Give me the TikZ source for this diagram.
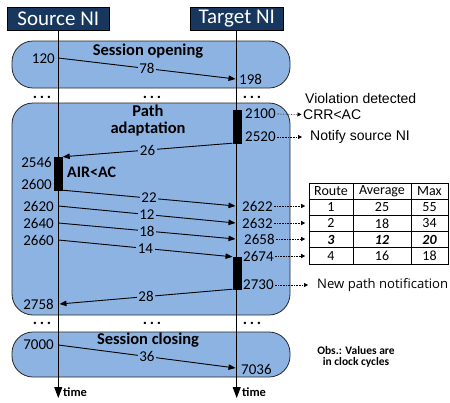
\documentclass[tikz,border=0pt]{standalone}
\usepackage{fontspec}
\setmainfont{Carlito}
\newfontfamily\arialf{Liberation Sans}
\newfontfamily\segf{Open Sans}
\usetikzlibrary{arrows.meta}
\definecolor{boxblue}{HTML}{8DB3E2}
\definecolor{hdrblue}{HTML}{17375E}
\begin{document}
\begin{tikzpicture}[x=1pt,y=-1pt,
  hdr/.style={draw=black, fill=hdrblue, text=white, font=\fontsize{21}{22}\selectfont, inner sep=0pt, minimum height=23pt},
  phase/.style={draw=black!85, fill=boxblue, rounded corners=21pt, line width=0.8pt},
  ptitle/.style={font=\fontsize{16.5}{17}\selectfont\bfseries, align=center, inner sep=0pt},
  life/.style={line width=0.9pt, -{Triangle[length=11pt,width=8pt]}},
  msg/.style={line width=0.9pt, -{Triangle[length=7pt,width=5.5pt]}},
  lbl/.style={fill=boxblue, inner sep=1.5pt, font=\fontsize{15}{15}\selectfont},
  num/.style={font=\fontsize{15}{15}\selectfont, inner sep=1pt},
  dotarr/.style={densely dotted, line width=0.6pt, -{Triangle[length=4pt,width=4pt]}},
  bar/.style={fill=black, draw=black, inner sep=0pt, minimum width=8pt},
  note/.style={font=\arialf\fontsize{14}{15}\selectfont, inner sep=0pt},
  dots/.style={font=\fontsize{16}{16}\selectfont\bfseries, inner sep=0pt, text height=2.5pt, text depth=0pt},
  cell/.style={draw=black, line width=0.6pt, inner sep=0pt, minimum height=16.2pt, font=\fontsize{14}{14}\selectfont},
  timel/.style={font=\fontsize{12.5}{13}\selectfont\bfseries, inner sep=0pt, anchor=west}
]
\useasboundingbox (0,0) rectangle (450,402);

% phase boxes
\draw[phase] (12,41) rectangle (290,88);
\draw[phase] (12,103) rectangle (290,315);
\draw[phase] (12,332) rectangle (290,377);

\node[ptitle] (t1) at (148,51) {Session opening};
\node[ptitle] (t2) at (148,121) {Path\\adaptation};
\node[ptitle] (t3) at (148,340) {Session closing};

% headers
\node[hdr, minimum width=102pt] (src) at (58.3,18.5) {Source NI};
\node[hdr, minimum width=93pt] (tgt) at (236.7,18.5) {Target NI};

% lifelines
\coordinate (srcend) at (58.3,398);
\coordinate (tgtend) at (236.7,398);
\draw[life] (src.south) -- (srcend);
\draw[life] (tgt.south) -- (tgtend);
\node[timel] (time1) at (63,392) {time};
\node[timel] (time2) at (242,392) {time};

% dots
\foreach \y/\n in {97/a,323/b}{
  \node[dots] (d1\n) at (42,\y) {.\,.\,.};
  \node[dots] (d2\n) at (152,\y) {.\,.\,.};
  \node[dots] (d3\n) at (252,\y) {.\,.\,.};
}

% activation bars
\node[bar, minimum height=33pt] (tb1) at (236.7,126.5) {};
\node[bar, minimum height=33pt] (sb) at (58.5,173.5) {};
\node[bar, minimum height=32pt] (tb2) at (236.7,273) {};

% coordinates on lifelines
\coordinate (s120) at (58.3,58);
\coordinate (t198) at (235.5,79);
\coordinate (s2620) at (58.3,206);
\coordinate (t2622) at (235.5,206);
\coordinate (t2632) at (235.5,223);
\coordinate (s2640) at (58.3,223);
\coordinate (t2658) at (235.5,239);
\coordinate (s2660) at (58.3,240);
\coordinate (s2758) at (59.5,304);
\coordinate (s7000) at (58.3,345);
\coordinate (t7036) at (235.5,368);

% messages
\draw[msg] (s120) -- node[lbl] (m78) {78} (t198);
\draw[msg] (tb1.south west) -- node[lbl] (m26) {26} (sb.north east);
\draw[msg] (sb.south east) -- node[lbl] (m22) {22} (t2622);
\draw[msg] (s2620) -- node[lbl] (m12) {12} (t2632);
\draw[msg] (s2640) -- node[lbl] (m18) {18} (t2658);
\draw[msg] (s2660) -- node[lbl] (m14) {14} (tb2.north west);
\draw[msg] (tb2.south west) -- node[lbl] (m28) {28} (s2758);
\draw[msg] (s7000) -- node[lbl] (m36) {36} (t7036);

% source-side numbers
\node[num, anchor=east] (n120) at (56,59) {120};
\node[num, anchor=east] (n2546) at (53,162) {2546};
\node[num, anchor=east] (n2600) at (53,184) {2600};
\node[num, anchor=east] (n2620) at (55,206) {2620};
\node[num, anchor=east] (n2640) at (55,223) {2640};
\node[num, anchor=east] (n2660) at (55,240) {2660};
\node[num, anchor=east] (n2758) at (55,304) {2758};
\node[num, anchor=east] (n7000) at (55,345) {7000};
\node[font=\fontsize{16}{16}\selectfont\bfseries, anchor=west, inner sep=0pt] (air) at (67,172) {AIR<AC};

% target-side numbers
\node[num, anchor=west] (n198) at (238,79) {198};
\node[num, anchor=west] (n2100) at (244,114) {2100};
\node[num, anchor=west] (n2520) at (244,137) {2520};
\node[num, anchor=west] (n2622) at (241,206) {2622};
\node[num, anchor=west] (n2632) at (241,223) {2632};
\node[num, anchor=west] (n2658) at (243,239) {2658};
\node[num, anchor=west] (n2674) at (242,256) {2674};
\node[num, anchor=west] (n2730) at (242,285) {2730};
\node[num, anchor=west] (n7036) at (240,369) {7036};

% annotations
\node[note, anchor=west] (viol) at (305,98) {Violation detected};
\node[note, anchor=west] (crr) at (303,114.5) {CRR<AC};
\node[note, anchor=west] (notify) at (310,137) {Notify source NI};
\node[font=\segf\fontsize{13.1}{14}\selectfont, inner sep=0pt, anchor=west] (newp) at (317,285) {New path notification};
\node[font=\fontsize{11.5}{11}\selectfont\bfseries, align=center, inner sep=0pt] (obs) at (356,357) {Obs.: Values are\\in clock cycles};

\draw[dotarr] (n2100.east) -- ([xshift=-1.5pt]crr.west);
\draw[dotarr] (n2520.east) -- ([xshift=-8pt]notify.west);
\draw[dotarr] (n2730.east) -- ([xshift=-9pt]newp.west);

% table
\node[cell, minimum width=44pt] (h1) at (331,191) {Route};
\node[cell, minimum width=58pt] (h2) at (382,191) {Average};
\node[cell, minimum width=37pt] (h3) at (429.5,191) {Max};
\node[cell, minimum width=44pt] (r1a) at (331,207.2) {1};
\node[cell, minimum width=58pt] (r1b) at (382,207.2) {25};
\node[cell, minimum width=37pt] (r1c) at (429.5,207.2) {55};
\node[cell, minimum width=44pt] (r2a) at (331,223.4) {2};
\node[cell, minimum width=58pt] (r2b) at (382,223.4) {18};
\node[cell, minimum width=37pt] (r2c) at (429.5,223.4) {34};
\node[cell, minimum width=44pt] (r3a) at (331,239.6) {\bfseries\itshape 3};
\node[cell, minimum width=58pt] (r3b) at (382,239.6) {\bfseries\itshape 12};
\node[cell, minimum width=37pt] (r3c) at (429.5,239.6) {\bfseries\itshape 20};
\node[cell, minimum width=44pt] (r4a) at (331,255.8) {4};
\node[cell, minimum width=58pt] (r4b) at (382,255.8) {16};
\node[cell, minimum width=37pt] (r4c) at (429.5,255.8) {18};

\draw[dotarr, shorten >=3.5pt] (n2622.east) -- (n2622.east -| r1a.west);
\draw[dotarr, shorten >=3.5pt] (n2632.east) -- (n2632.east -| r2a.west);
\draw[dotarr, shorten >=3.5pt] (n2658.east) -- (n2658.east -| r3a.west);
\draw[dotarr, shorten >=3.5pt] (n2674.east) -- (n2674.east -| r4a.west);
\end{tikzpicture}
\end{document}
